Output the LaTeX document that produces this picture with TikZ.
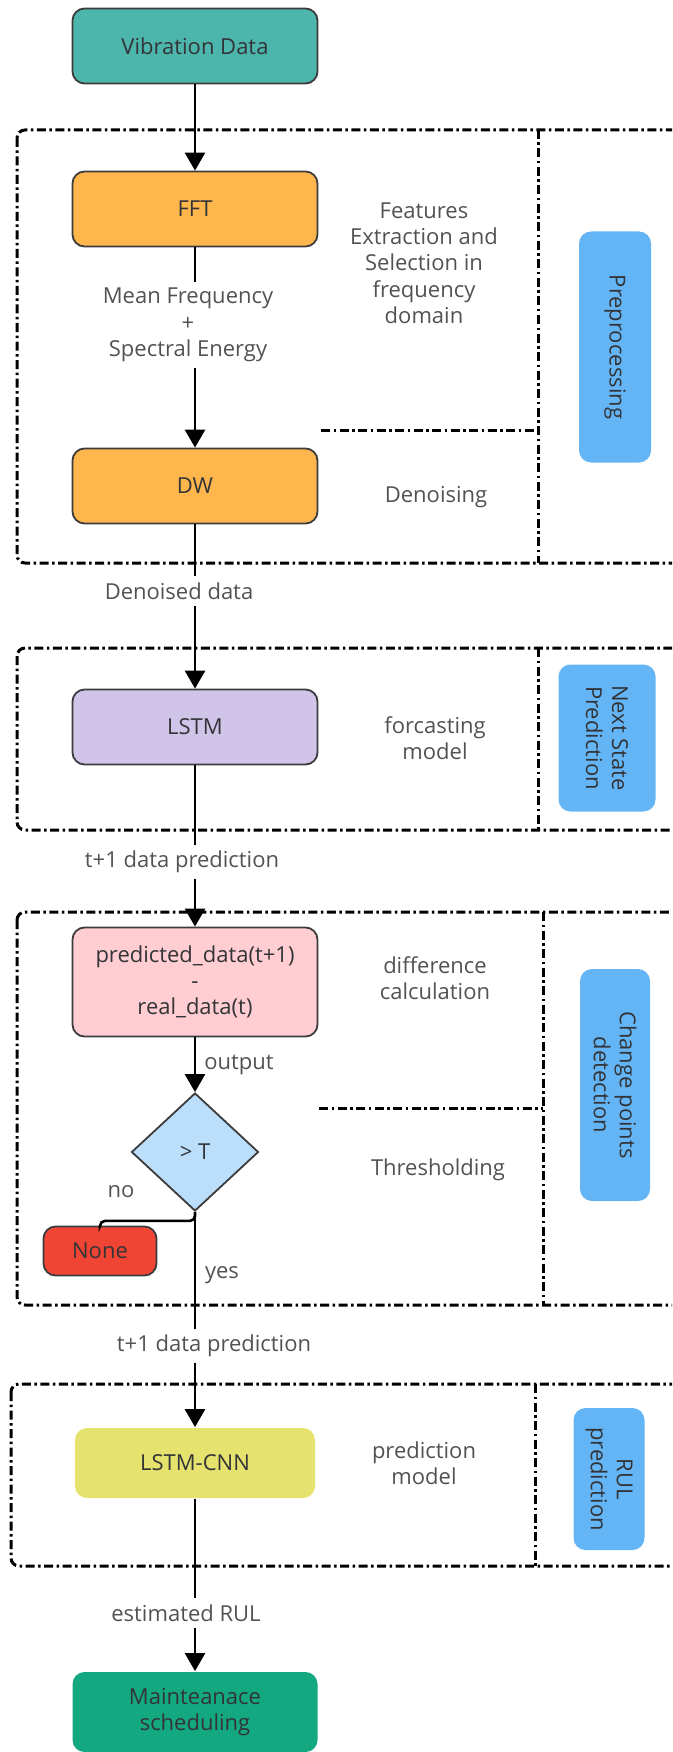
\documentclass[tikz,border=0pt]{standalone}
\usepackage{fontspec}
\setmainfont{Open Sans}
\usetikzlibrary{shapes.geometric,arrows.meta,positioning}

\definecolor{ink}{RGB}{50,52,55}
\definecolor{edge}{RGB}{60,60,60}
\definecolor{vibcol}{RGB}{77,182,172}
\definecolor{orangecol}{RGB}{255,183,77}
\definecolor{lstmcol}{RGB}{209,196,233}
\definecolor{pinkcol}{RGB}{255,205,210}
\definecolor{diacol}{RGB}{187,222,251}
\definecolor{nonecol}{RGB}{240,68,52}
\definecolor{cnncol}{RGB}{230,226,110}
\definecolor{maintcol}{RGB}{20,168,128}
\definecolor{tagcol}{RGB}{100,181,246}

\begin{document}
\begin{tikzpicture}[x=1pt,y=-1pt]
        \tikzstyle{box}=[draw=edge, line width=1.8pt, rounded corners=12pt, minimum width=245pt, minimum height=75pt, text=ink, align=center, font=\fontsize{22}{26}\selectfont]
        \tikzstyle{decision}=[diamond, draw=edge, line width=1.8pt, fill=diacol, minimum width=127pt, minimum height=118pt, inner sep=0pt, text=ink, font=\fontsize{22}{26}\selectfont]
        \tikzstyle{lbl}=[text=ink!85, align=center, inner sep=6pt, font=\fontsize{22}{26.3}\selectfont]
        \tikzstyle{tag}=[fill=tagcol, rounded corners=12pt, rotate=-90, align=center, text=ink, font=\fontsize{22}{26}\selectfont]
        \tikzstyle{frame}=[line width=3pt, dash pattern=on 9pt off 3.5pt on 2.5pt off 3.5pt, rounded corners=8pt]
        \tikzstyle{line}=[line width=2.6pt]
        \tikzstyle{arrow}=[line width=2.6pt, -{Triangle[length=18pt,width=20pt]}]

        \useasboundingbox (0,0) rectangle (672,1752);
        \clip (0,0) rectangle (672,1752);

        % stage frames
        \draw[frame] (17,130) rectangle (690,563);
        \draw[frame] (538,130) -- (538,563);
        \draw[frame] (321,430) -- (538,430);
        \draw[frame] (17,648) rectangle (690,830);
        \draw[frame] (538,648) -- (538,830);
        \draw[frame] (17,912) rectangle (690,1305);
        \draw[frame] (543,912) -- (543,1305);
        \draw[frame] (319,1108) -- (543,1108);
        \draw[frame] (11,1384) rectangle (690,1566);
        \draw[frame] (535,1384) -- (535,1566);

        % main column
        \node[box, fill=vibcol] (vib) at (195,46) {Vibration Data};
        \node[box, fill=orangecol] (fft) at (195,209) {FFT};
        \node[box, fill=orangecol] (dw) at (195,486) {DW};
        \node[box, fill=lstmcol] (lstm) at (195,727) {LSTM};
        \node[box, fill=pinkcol, minimum height=109pt] (diff) at (195,982) {predicted\_data(t+1)\\-\\real\_data(t)};
        \node[decision] (thr) at (195,1152) {> T};
        \node[box, fill=nonecol, minimum width=113pt, minimum height=49pt, inner sep=0pt] (none) at (100,1251) {None};
        \node[box, draw=none, fill=cnncol, minimum width=240pt, minimum height=70pt] (cnn) at (195,1463) {LSTM-CNN};
        \node[box, draw=none, fill=maintcol, minimum height=80pt] (maint) at (195,1712) {Mainteanace\\scheduling};

        % stage notes
        \node[lbl] (feat) at (424,263) {Features\\Extraction and\\Selection in\\frequency\\domain};
        \node[lbl] (denoise) at (436,497) {Denoising};
        \node[lbl] (forcast) at (435,738) {forcasting\\model};
        \node[lbl] (diffcalc) at (435,978) {difference\\calculation};
        \node[lbl] (thresh) at (438,1170) {Thresholding};
        \node[lbl] (predmodel) at (424,1463) {prediction\\model};

        % stage tags
        \node[tag, minimum width=231pt, minimum height=72pt] (pre) at (615,347) {Preprocessing};
        \node[tag, minimum width=147pt, minimum height=97pt] (nsp) at (607,738) {Next State\\Prediction};
        \node[tag, minimum width=232pt, minimum height=70pt] (cpd) at (615,1085) {Change points\\detection};
        \node[tag, minimum width=142pt, minimum height=71pt] (rul) at (609,1479) {RUL\\prediction};

        % connectors
        \draw[arrow] (vib) -- (fft);

        \node[lbl] (mf) at (188,325) {Mean Frequency\\+\\Spectral Energy};
        \draw[line] (fft) -- (fft.south |- mf.north);
        \draw[arrow] (fft.south |- mf.south) -- (dw);

        \node[lbl] (dd) at (179,591) {Denoised data};
        \draw[line] (dw) -- (dw.south |- dd.north);
        \draw[arrow] (dw.south |- dd.south) -- (lstm);

        \node[lbl] (tp1) at (182,862) {t+1 data prediction};
        \draw[line] (lstm) -- (lstm.south |- tp1.north);
        \draw[arrow] (lstm.south |- tp1.south) -- (diff);

        \draw[arrow] (diff) -- node[lbl, right, inner sep=8pt] (out) {output} (thr);

        \draw[line, rounded corners=5pt] (thr.south) -- ++(0,9) -| (none.north);
        \node[lbl] (no) at (121,1192) {no};
        \node[lbl] (yes) at (222,1275) {yes};

        \node[lbl] (tp2) at (214,1346) {t+1 data prediction};
        \draw[line] (thr.south) -- (thr.south |- tp2.north);
        \draw[arrow] (thr.south |- tp2.south) -- (cnn);

        \node[lbl] (est) at (186,1613) {estimated RUL};
        \draw[line] (cnn) -- (cnn.south |- est.north);
        \draw[arrow] (cnn.south |- est.south) -- (maint);
    \end{tikzpicture}
\end{document}
